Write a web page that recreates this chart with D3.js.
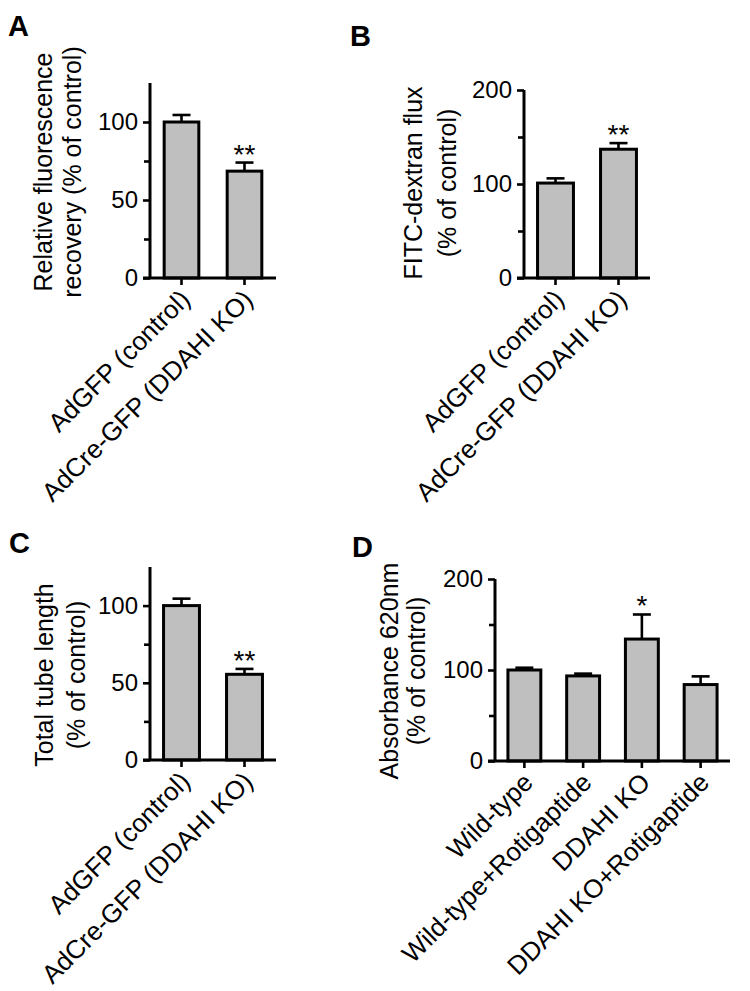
<!DOCTYPE html>
<html><head><meta charset="utf-8">
<script src="https://cdn.jsdelivr.net/npm/d3@7"></script>
<style>body{margin:0;background:#fff}svg{display:block}text{font-family:"Liberation Sans",Arial,sans-serif;fill:#000}</style>
</head><body><svg id="c" width="750" height="991"></svg>
<script>
// ---- data ----
const catsAB = ["AdGFP (control)", "AdCre-GFP (DDAHI KO)"];
const catsD = ["Wild-type", "Wild-type+Rotigaptide", "DDAHI KO", "DDAHI KO+Rotigaptide"];
const valuesA = [100, 68.5];
const errorsA = [4.5, 5.5];
const sigA = ["", "**"];
const valuesB = [101, 137];
const errorsB = [5, 6.5];
const sigB = ["", "**"];
const valuesC = [100, 55.5];
const errorsC = [4.5, 3.5];
const sigC = ["", "**"];
const valuesD = [100, 93.5, 134, 84];
const errorsD = [2.5, 2.5, 27, 9];
const sigD = ["", "", "*", ""];
const ticksAC = [0, 50, 100];
const minorAC = [25, 75];
const ticksBD = [0, 100, 200];
const minorBD = [50, 150];
const titleA = ["Relative fluorescence", "recovery (% of control)"];
const titleB = ["FITC-dextran flux", "(% of control)"];
const titleC = ["Total tube length", "(% of control)"];
const titleD = ["Absorbance 620nm", "(% of control)"];

const svg = d3.select("#c");
const FS_TICK = 24, FS_X = 26, FS_TITLE = 25;

function panel(o){
  const g = svg.append("g");
  const x = d3.scaleBand().domain(o.cats).range([o.x0, o.x1]).paddingInner(o.pin).paddingOuter(o.pin/2);
  const y = d3.scaleLinear().domain([0, o.ymax]).range([o.y0, o.ytop]);
  const data = o.cats.map((c,i)=>({c, v:o.vals[i], e:o.errs[i], s:o.sig[i]}));
  const cx = d => x(d.c)+x.bandwidth()/2;
  const eb = g.selectAll(".eb").data(data).enter().append("g");
  eb.append("line").attr("x1",cx).attr("x2",cx)
    .attr("y1",d=>y(d.v)).attr("y2",d=>y(d.v+d.e)).attr("stroke","#000").attr("stroke-width",2.6);
  eb.append("line").attr("x1",d=>cx(d)-9).attr("x2",d=>cx(d)+9)
    .attr("y1",d=>y(d.v+d.e)).attr("y2",d=>y(d.v+d.e)).attr("stroke","#000").attr("stroke-width",2.6);
  g.selectAll(".bar").data(data).enter().append("rect")
    .attr("x",d=>x(d.c)).attr("width",x.bandwidth())
    .attr("y",d=>y(d.v)).attr("height",d=>y(0)-y(d.v))
    .attr("fill","#bfbfbf").attr("stroke","#000").attr("stroke-width",3);
  g.selectAll(".sig").data(data).enter().append("text")
    .attr("x",cx).attr("y",d=>y(d.v+d.e)+1)
    .attr("text-anchor","middle").attr("font-size",28).text(d=>d.s);
  // y axis
  const ya = g.append("g").attr("transform",`translate(${o.x0},0)`)
    .call(d3.axisLeft(y).tickValues(o.ticks).tickSize(7).tickPadding(5).tickSizeOuter(0));
  ya.select(".domain").attr("stroke-width",3).attr("d",`M0,${o.ytop}V${o.y0}`);
  ya.selectAll(".tick line").attr("stroke-width",2.6);
  ya.selectAll(".tick text").attr("font-size",FS_TICK).attr("font-family","Liberation Sans, Arial, sans-serif");
  const ym = g.append("g").attr("transform",`translate(${o.x0},0)`)
    .call(d3.axisLeft(y).tickValues(o.minor).tickSize(6).tickFormat(""));
  ym.select(".domain").remove();
  ym.selectAll(".tick line").attr("stroke-width",2.6);
  // x axis
  const xa = g.append("g").attr("transform",`translate(0,${o.y0})`)
    .call(d3.axisBottom(x).tickSize(7).tickSizeOuter(0));
  xa.select(".domain").attr("stroke-width",3).attr("d",`M${o.x0-7},0H${o.x1}`);
  xa.selectAll(".tick line").attr("stroke-width",2.6);
  xa.selectAll(".tick text").attr("font-size",FS_X).attr("font-family","Liberation Sans, Arial, sans-serif")
    .attr("text-anchor","end").attr("y",0).attr("dy",0)
    .attr("transform","translate(10,23) rotate(-45)");
  // title
  const t = g.append("g").attr("transform",`translate(0,${o.tcy})`);
  o.title.forEach((s,i)=>{
    t.append("text").attr("transform",`translate(${o.tx[i]},0) rotate(-90)`)
      .attr("text-anchor","middle").attr("dy","0.35em").attr("font-size",FS_TITLE).text(s);
  });
  g.append("text").attr("x",o.lx).attr("y",o.ly).attr("font-size",29).attr("font-weight","bold").text(o.label);
}

panel({cats:catsAB, vals:valuesA, errs:errorsA, sig:sigA, x0:150, x1:276, pin:0.45, y0:278, ytop:83, ymax:125,
  ticks:ticksAC, minor:minorAC, title:titleA, tx:[43,72], tcy:172, label:"A", lx:8, ly:36});
panel({cats:catsAB, vals:valuesB, errs:errorsB, sig:sigB, x0:524, x1:650, pin:0.43, y0:278, ytop:90, ymax:200,
  ticks:ticksBD, minor:minorBD, title:titleB, tx:[413,447], tcy:183, label:"B", lx:350, ly:46});
panel({cats:catsAB, vals:valuesC, errs:errorsC, sig:sigC, x0:150, x1:276, pin:0.43, y0:760, ytop:567, ymax:125,
  ticks:ticksAC, minor:minorAC, title:titleC, tx:[44,76], tcy:675, label:"C", lx:9, ly:553});
panel({cats:catsD, vals:valuesD, errs:errorsD, sig:sigD, x0:495, x1:730, pin:0.44, y0:761, ytop:579, ymax:200,
  ticks:ticksBD, minor:minorBD, title:titleD, tx:[389,416], tcy:671, label:"D", lx:352, ly:557});
</script></body></html>
